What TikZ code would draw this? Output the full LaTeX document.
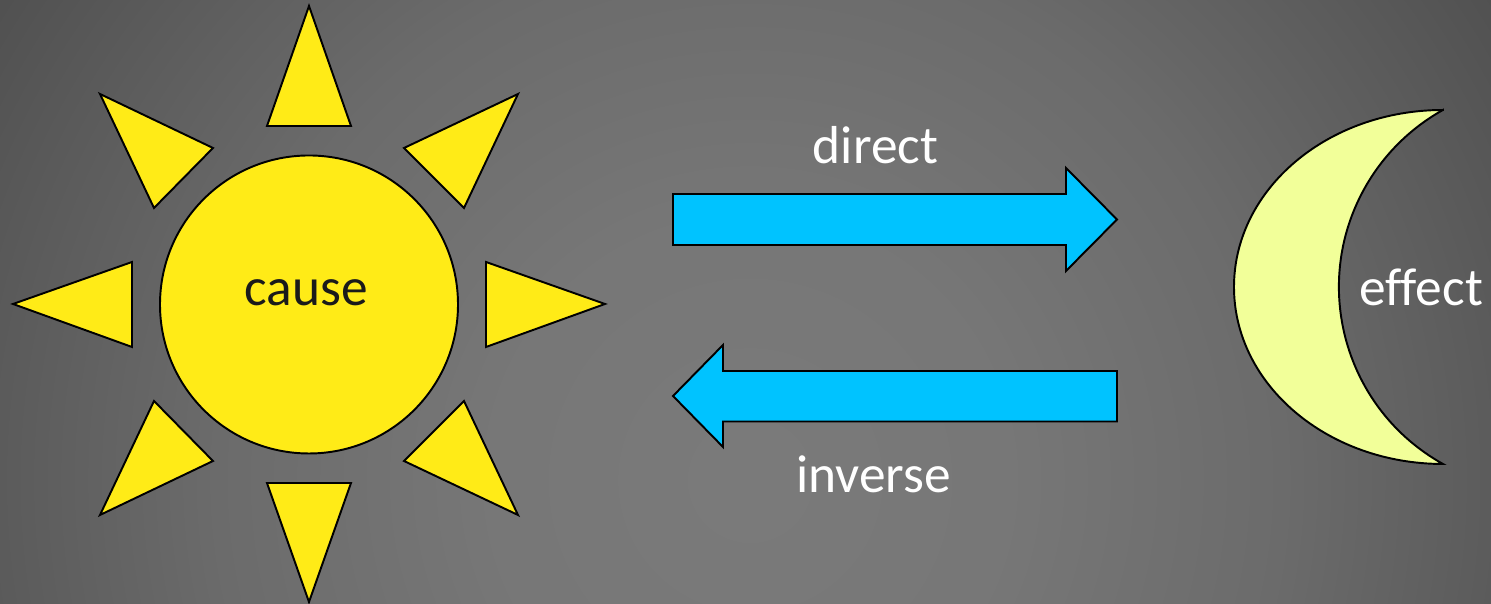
\documentclass[tikz,border=0pt]{standalone}
\usepackage{fontspec}
\setmainfont[Ligatures=NoCommon]{Carlito}
\definecolor{sunYellow}{RGB}{255,235,23}
\definecolor{moonYellow}{RGB}{242,255,153}
\definecolor{arrowBlue}{RGB}{0,195,255}
\definecolor{darkText}{RGB}{26,26,26}
\pgfdeclareradialshading{slideback}{\pgfpoint{0bp}{0bp}}{rgb(0bp)=(.48,.48,.48); rgb(7bp)=(.465,.465,.465); rgb(14bp)=(.42,.42,.42); rgb(24bp)=(.31,.31,.31); rgb(28.5bp)=(.25,.25,.25); rgb(50bp)=(.24,.24,.24)}
\tikzset{
  shapeline/.style={draw=black, line width=0.55pt, line join=miter},
  ray/.style={shapeline, fill=sunYellow},
  blockarrow/.style={shapeline, fill=arrowBlue},
  whitelabel/.style={anchor=base, text=white, font=\fontsize{15.2}{18}\selectfont, inner sep=0pt},
  darklabel/.style={anchor=base, text=darkText, font=\fontsize{15.2}{18}\selectfont, inner sep=0pt}
}
\begin{document}
\begin{tikzpicture}
    % slide background
    \useasboundingbox (0,0) rectangle (14.91,6.04);
    \begin{scope}
      \clip (0,0) rectangle (14.91,6.04);
      \shade[shading=slideback] (-2,-8.26) rectangle (17,10.74);
    \end{scope}
    % sun rays, clockwise from the top
    \foreach \a/\b/\c in {{3.09,5.98}/{2.67,4.78}/{3.51,4.78},{5.18,5.10}/{4.04,4.56}/{4.64,3.96},{6.05,3.00}/{4.86,3.42}/{4.86,2.57},{5.18,0.89}/{4.04,1.43}/{4.64,2.03},{3.09,0.02}/{2.67,1.21}/{3.51,1.21},{1.00,0.89}/{2.13,1.43}/{1.54,2.03},{0.13,3.00}/{1.32,3.42}/{1.32,2.57},{1.00,5.10}/{2.13,4.56}/{1.54,3.96}}{
      \draw[ray] (\a) -- (\b) -- (\c) -- cycle;}
    \draw[ray] (3.09,2.995) circle (1.49);
    \node[darklabel] (cause) at (3.06,2.98) {cause};
    % moon, outer edge then inner edge
    \draw[shapeline, fill=moonYellow] (14.43,4.94) arc[start angle=90, end angle=270, x radius=2.09, y radius=1.77]
      arc[start angle=240.9, end angle=119.1, radius=2.026] -- cycle;
    \node[whitelabel] (effect) at (14.21,2.98) {effect};
    % block arrows in the gap
    \draw[blockarrow] (6.73,4.10) -- (10.66,4.10) -- (10.66,4.36) -- (11.17,3.845) -- (10.66,3.33) -- (10.66,3.59) -- (6.73,3.59) -- cycle;
    \node[whitelabel] (direct) at (8.755,4.40) {direct};
    \draw[blockarrow] (11.17,2.33) -- (7.23,2.33) -- (7.23,2.59) -- (6.73,2.08) -- (7.23,1.57) -- (7.23,1.825) -- (11.17,1.825) -- cycle;
    \node[whitelabel] (inverse) at (8.735,1.11) {inverse};
  \end{tikzpicture}
\end{document}
